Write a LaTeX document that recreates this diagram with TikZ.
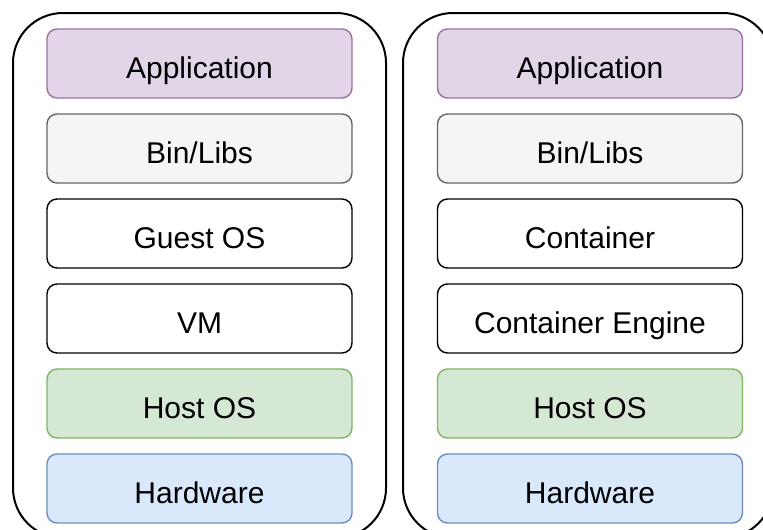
\documentclass[tikz,border=0pt]{standalone}
\usepackage{fontspec}
\setmainfont{Liberation Sans}
\usetikzlibrary{positioning}

\definecolor{appfill}{HTML}{E1D5E7}
\definecolor{appline}{HTML}{9673A6}
\definecolor{libfill}{HTML}{F5F5F5}
\definecolor{libline}{HTML}{666666}
\definecolor{hostfill}{HTML}{D5E8D4}
\definecolor{hostline}{HTML}{82B366}
\definecolor{hwfill}{HTML}{DAE8FC}
\definecolor{hwline}{HTML}{6C8EBF}

\begin{document}
\begin{tikzpicture}[x=1pt, y=-1pt, node distance=16pt,
      every node/.style = {shape=rectangle, rounded corners=10pt,
        draw, line width=1.4pt, outer sep=0pt, align=center,
        minimum width=305pt, minimum height=69pt,
        text height=29pt, text depth=0pt,
        font=\fontsize{30}{36}\selectfont},
      layer/.style = {fill=white, draw=black},
      app/.style = {fill=appfill, draw=appline},
      libs/.style = {fill=libfill, draw=libline},
      host/.style = {fill=hostfill, draw=hostline},
      hw/.style = {fill=hwfill, draw=hwline}]
  \useasboundingbox (0,0) rectangle (763,530);

  % outer frames
  \draw[line width=2pt, rounded corners=50pt] (13,13) rectangle (386,538);
  \draw[line width=2pt, rounded corners=50pt] (403,13) rectangle (773,538);

  % virtual machine stack
  \node[app] (appL) at (199.5,63.5) {Application};
  \node[libs, below=of appL] (binL) {Bin/Libs};
  \node[layer, below=of binL] (guestL) {Guest OS};
  \node[layer, below=of guestL] (vmL) {VM};
  \node[host, below=of vmL] (hostL) {Host OS};
  \node[hw, below=of hostL] (hwL) {Hardware};

  % container stack
  \node[app] (appR) at (590,63.5) {Application};
  \node[libs, below=of appR] (binR) {Bin/Libs};
  \node[layer, below=of binR] (contR) {Container};
  \node[layer, below=of contR] (engR) {Container Engine};
  \node[host, below=of engR] (hostR) {Host OS};
  \node[hw, below=of hostR] (hwR) {Hardware};
\end{tikzpicture}
\end{document}
